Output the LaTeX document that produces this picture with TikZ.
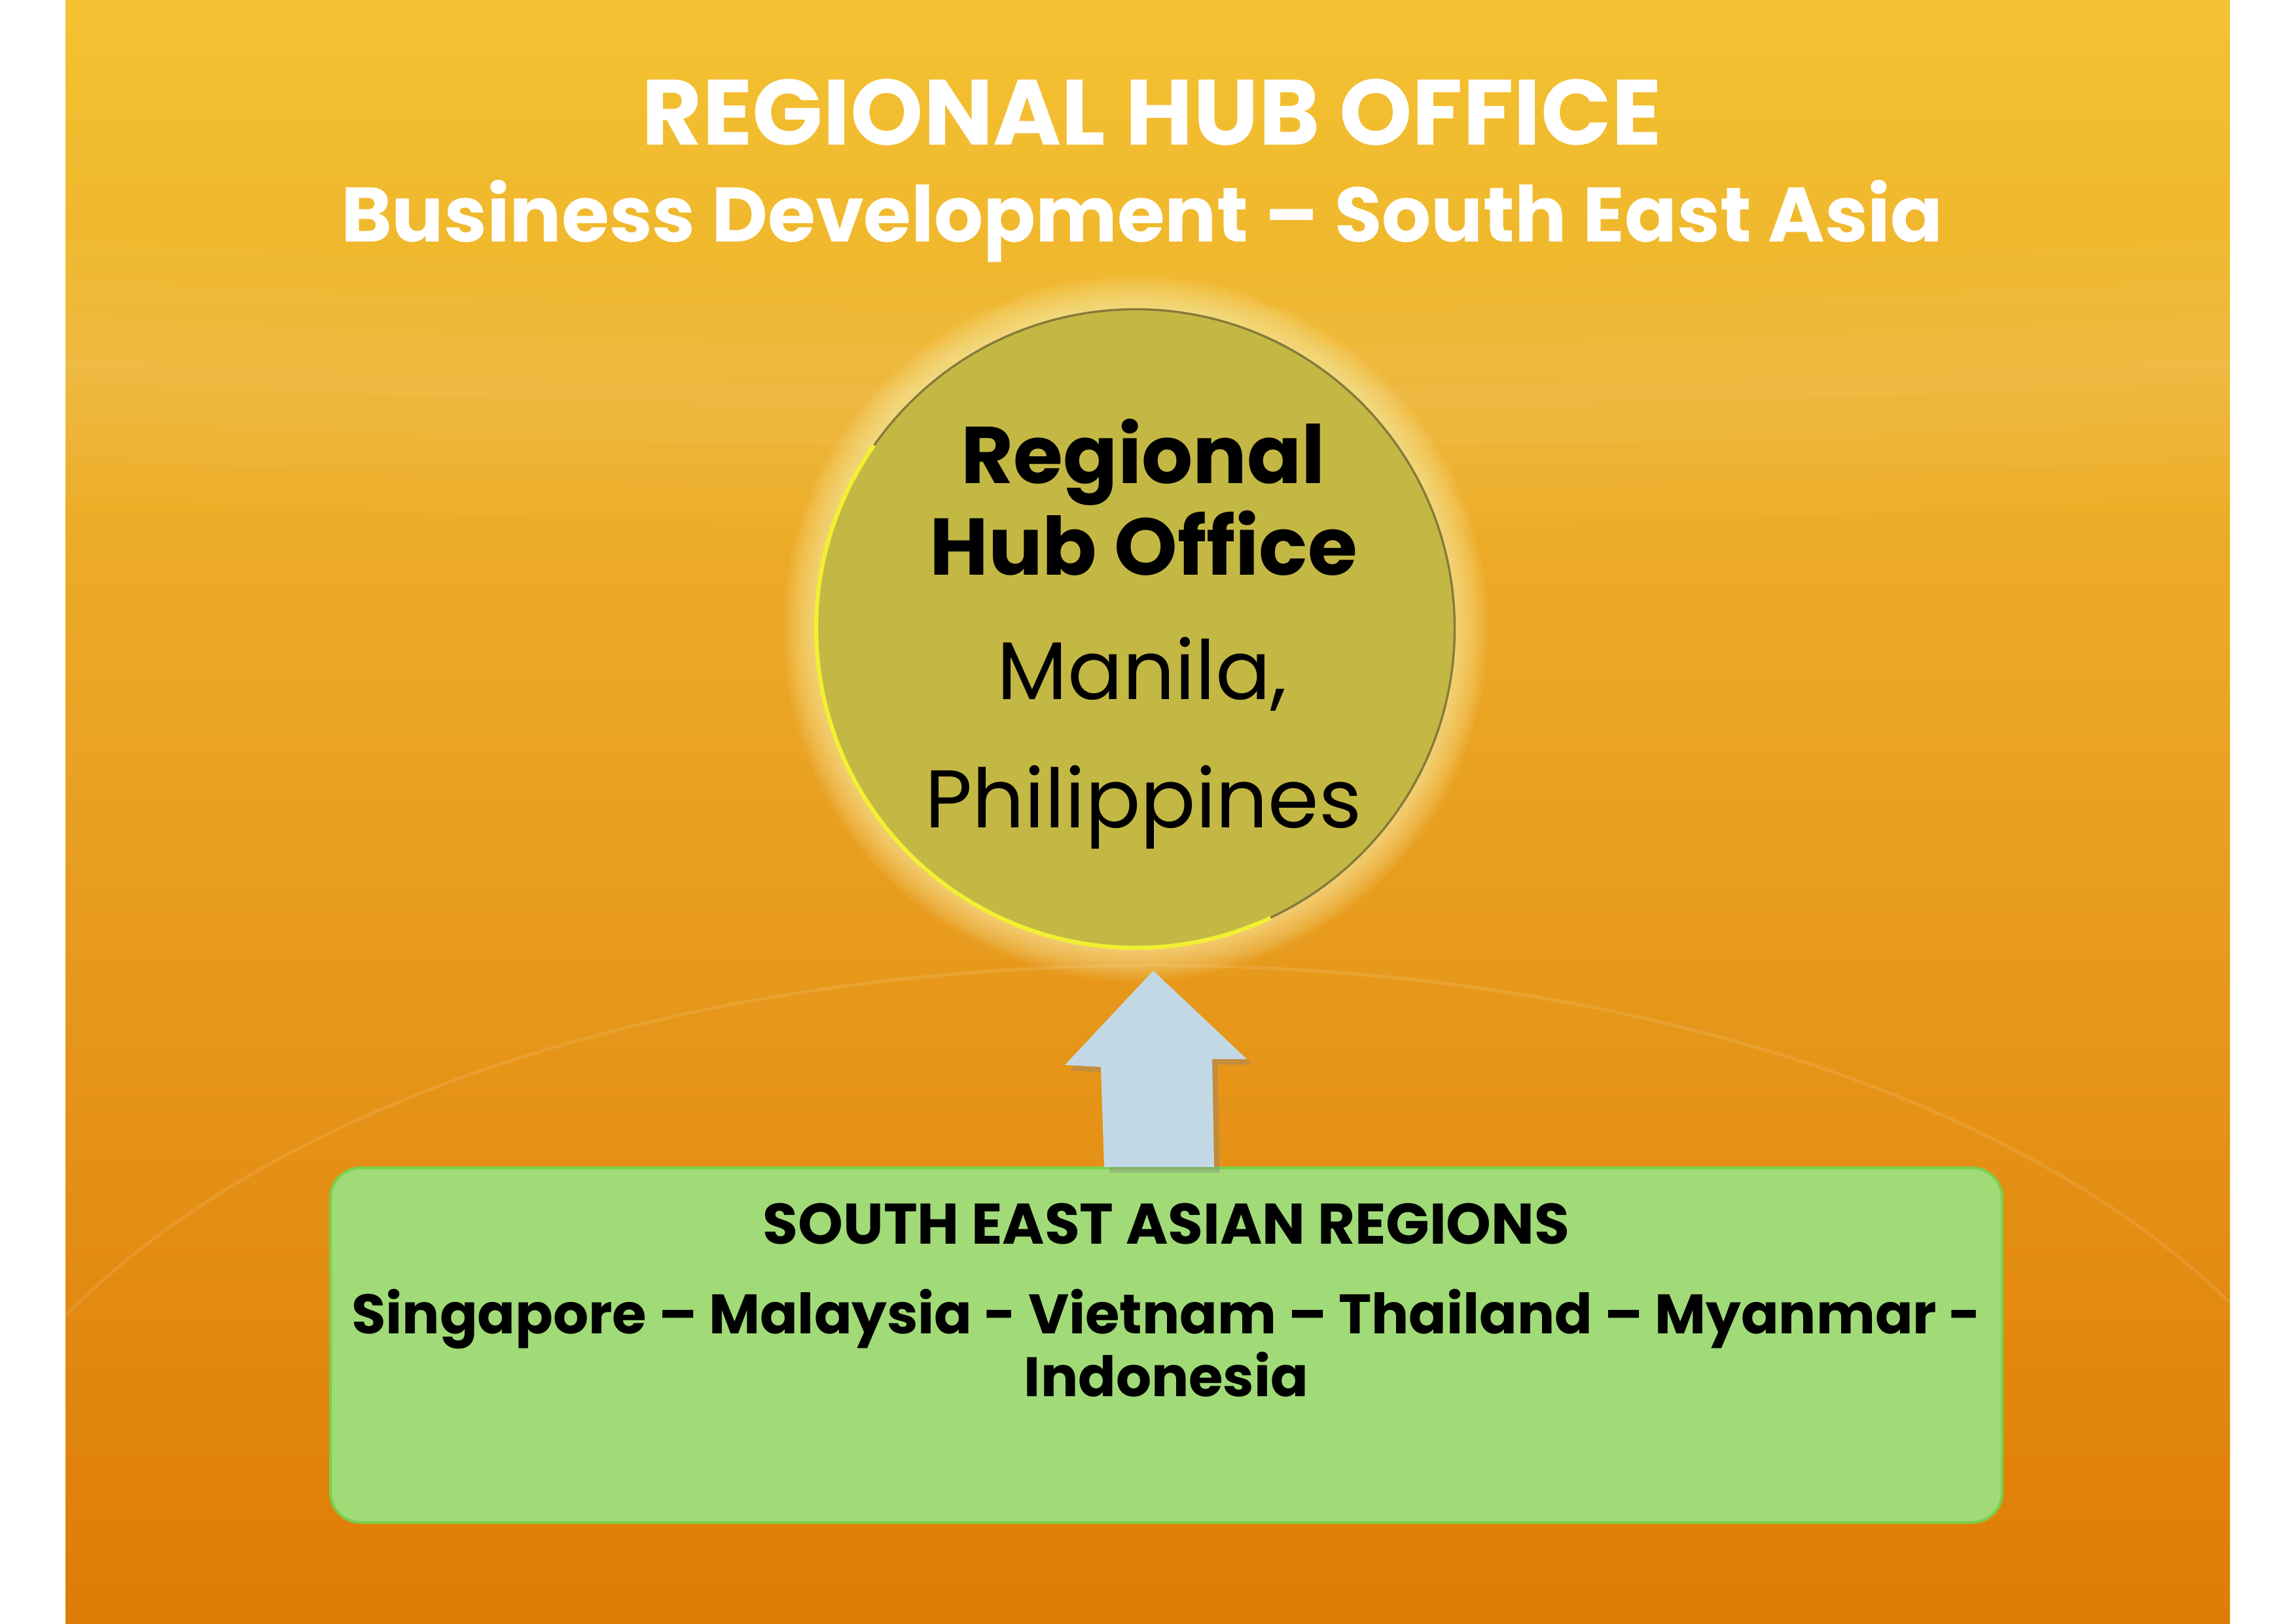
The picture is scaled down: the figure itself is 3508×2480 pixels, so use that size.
\documentclass[tikz,border=0pt]{standalone}
\usepackage{fontspec}
\setmainfont{Poppins}
\usetikzlibrary{positioning,shadows}
\definecolor{bgtop}{HTML}{F3C232}
\definecolor{bgmid}{HTML}{E9A021}
\definecolor{bgbot}{HTML}{DF7C06}
\definecolor{hubfill}{HTML}{C4B845}
\definecolor{rimlight}{HTML}{F2F030}
\definecolor{rimdark}{HTML}{857A38}
\definecolor{arrowblue}{HTML}{C2D9E5}
\definecolor{boxgreen}{HTML}{A0DB78}
\definecolor{boxedge}{HTML}{7CCF4C}

\begin{document}
\begin{tikzpicture}[x=0.24pt,y=0.24pt,
    headline/.style={text=white,inner sep=0pt,anchor=base,font=\bfseries\fontsize{34}{40}\selectfont},
    subline/.style={text=white,inner sep=0pt,anchor=base,font=\bfseries\fontsize{28.3}{34}\selectfont},
    hub/.style={circle,fill=hubfill,draw=rimdark,line width=0.8pt,minimum size=234pt,inner sep=0pt},
    hubbold/.style={inner sep=0pt,anchor=base,font=\bfseries\fontsize{29.5}{36}\selectfont},
    hubplain/.style={inner sep=0pt,anchor=base,font=\fontsize{30}{36}\selectfont},
    region/.style={rectangle,rounded corners=11pt,fill=boxgreen,draw=boxedge,line width=1pt,
      minimum width=613pt,minimum height=130pt},
    regiontext/.style={inner sep=0pt,anchor=base,font=\bfseries\fontsize{21}{26}\selectfont},
    regionlist/.style={regiontext,font=\bfseries\fontsize{20.4}{26}\selectfont},
    uparrow/.style={fill=arrowblue,drop shadow={shadow xshift=2pt,shadow yshift=-2pt,opacity=0.35}}]
  \useasboundingbox (0,0) rectangle (3508,2480);

  % background
  \shade[top color=bgtop,bottom color=bgbot,middle color=bgmid] (100,0) rectangle (3407,2480);
  \foreach \d in {0,60,120,180}
    \fill[white,opacity=0.03] (100,2116-\d) .. controls (1200,2050-\d) and (2300,2050-\d) .. (3407,2116-\d)
      -- (3407,1900-\d) .. controls (2300,1840-\d) and (1200,1840-\d) .. (100,1900-\d) -- cycle;
  \draw[white,opacity=0.1,line width=1.2pt] (100,470) .. controls (800,1180) and (2700,1180) .. (3407,490);

  % titles
  \node[headline] (head) at (1760,2258) {REGIONAL HUB OFFICE};
  \node[subline] (sub) at (1745,2110) {Business Development – South East Asia};

  % hub circle with glow
  \foreach \g in {1,...,10}
    \fill[yellow!25!white,opacity=0.07] (1735,1520) circle[radius=488+\g*5];
  \node[hub] (hub) at (1735,1520) {};
  \draw[rimlight,line width=1.5pt] (hub.center) ++(145:488) arc[start angle=145,end angle=295,radius=488];
  \node[hubbold] (hubname) at (1747,1741) {Regional};
  \node[hubbold] (hubname2) at (1747,1601) {Hub Office};
  \node[hubplain] (hubcity) at (1745,1411) {Manila,};
  \node[hubplain] (hubcountry) at (1747,1215) {Philippines};

  % regions box
  \node[region] (sea) at (1782,425) {};
  \node[regiontext] (seahead) at (1782,580) {SOUTH EAST ASIAN REGIONS};
  \node[regionlist] (sealist) at (1782,443) {Singapore – Malaysia - Vietnam – Thailand – Myanmar -};
  \node[regionlist] (sealast) at (1782,347) {Indonesia};

  % arrow from box to hub
  \coordinate (tip) at (1762,997);
  \fill[uparrow] (1687,697) -- (1682,850) -- (1627,853) -- (tip) -- (1905,862)
    -- (1852,862) -- (1855,697) -- cycle;
\end{tikzpicture}
\end{document}
